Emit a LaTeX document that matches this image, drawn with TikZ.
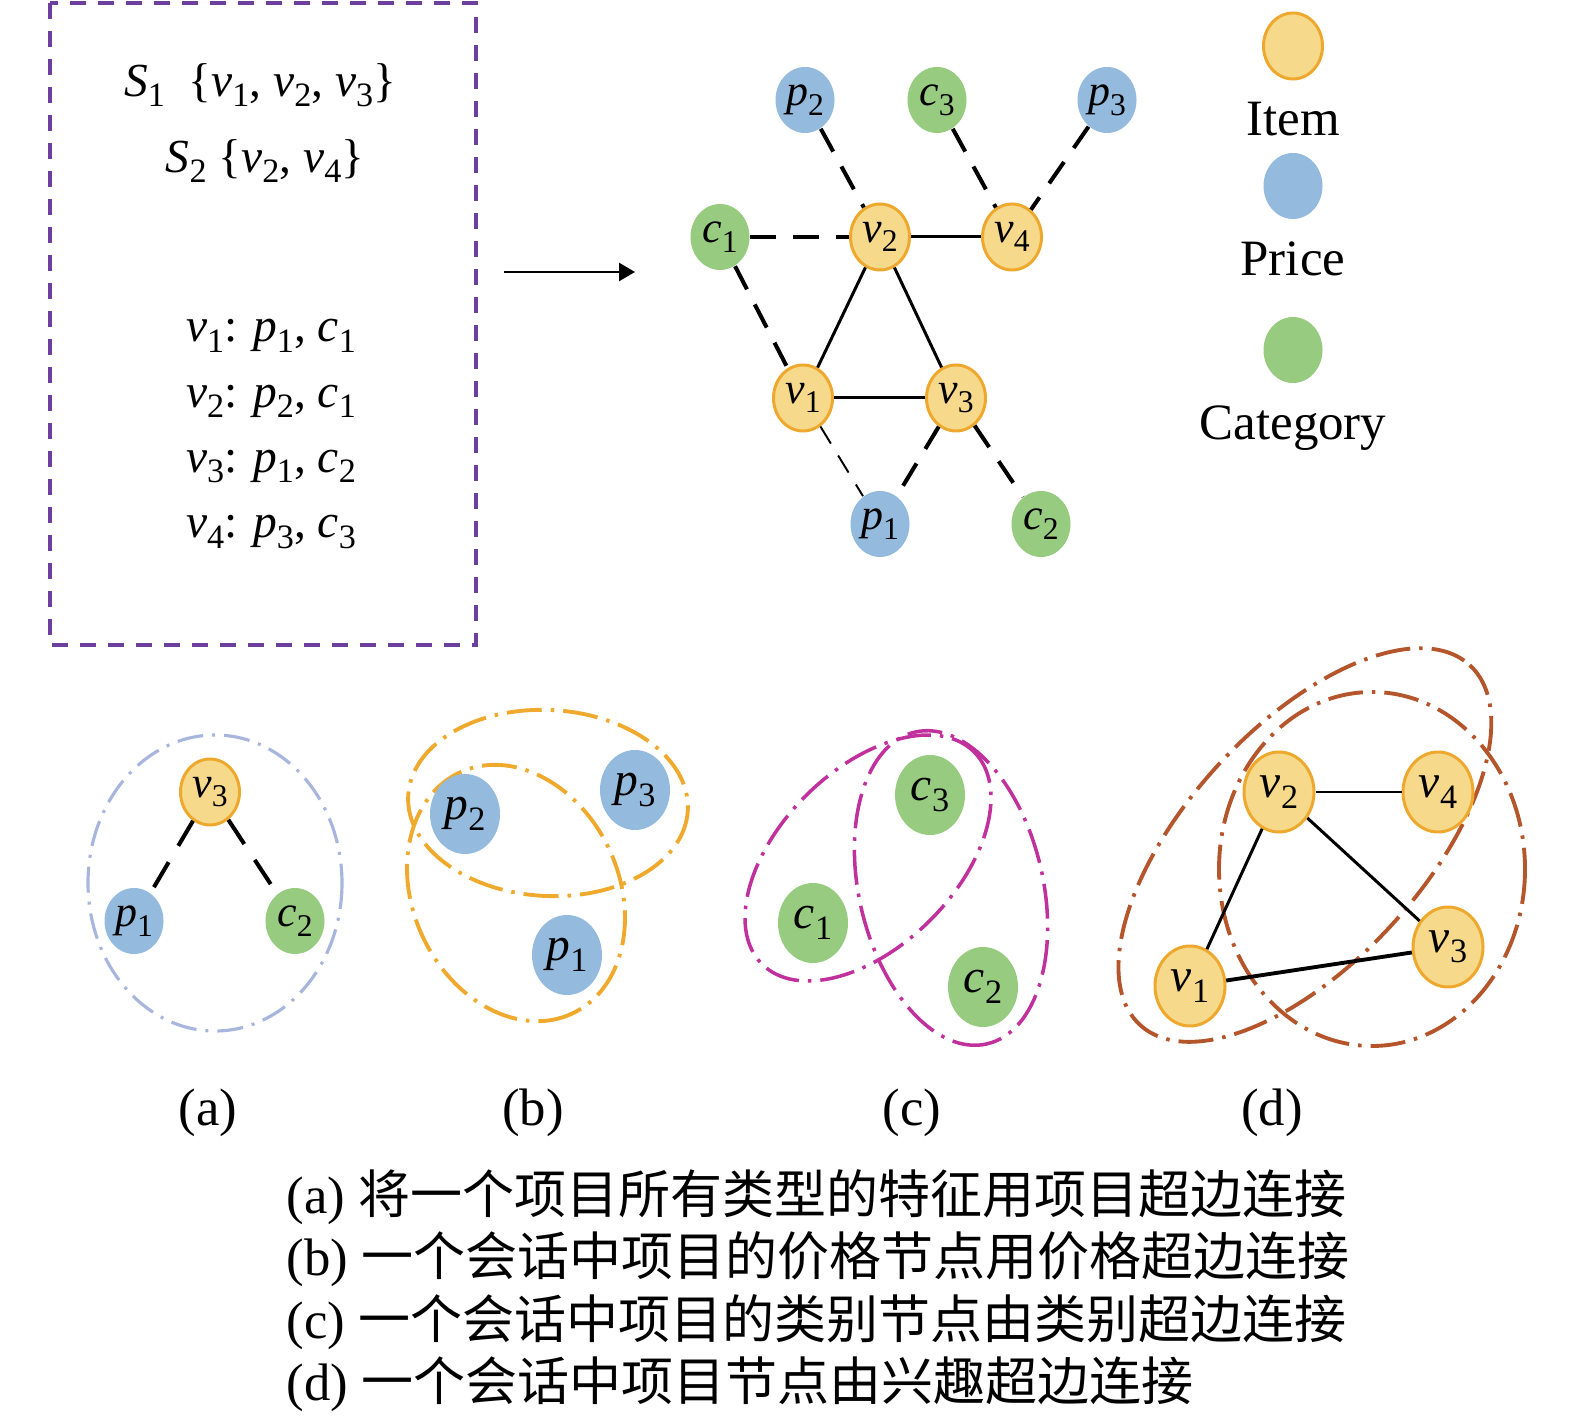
\documentclass[tikz,border=0pt]{standalone}
\usepackage{fontspec}
\setmainfont{Liberation Serif}
\newfontfamily\cjk{Noto Sans CJK SC}
\usepackage{graphicx}
\usepackage{tikz}
\usepackage{xcolor}
\usetikzlibrary{shapes.geometric, arrows.meta, positioning}

\definecolor{itemfill}{HTML}{F6D98A}
\definecolor{itemdraw}{HTML}{EFA82E}
\definecolor{pricefill}{HTML}{94BADD}
\definecolor{catfill}{HTML}{97CB80}
\definecolor{boxpurple}{HTML}{6C3F9E}
\definecolor{hyperA}{HTML}{A8B6DE}
\definecolor{hyperB}{HTML}{EFAA2E}
\definecolor{hyperC}{HTML}{C0319D}
\definecolor{hyperD}{HTML}{B4552B}

\newcommand{\nd}[2]{\textit{#1}\raisebox{-0.22em}{\scalebox{0.72}{#2}}}
\newcommand{\zh}[1]{{\cjk\fontsize{14.8}{17.7}\selectfont #1}}

\tikzstyle{item}    = [ellipse, minimum width=5.9mm, minimum height=6.6mm, inner sep=-4pt,
                       fill=itemfill, draw=itemdraw, line width=0.85pt, font=\fontsize{12.5}{14}\selectfont]
\tikzstyle{price}   = [ellipse, minimum width=5.9mm, minimum height=6.6mm, inner sep=-4pt,
                       fill=pricefill, font=\fontsize{12.5}{14}\selectfont]
\tikzstyle{cat}     = [ellipse, minimum width=5.9mm, minimum height=6.6mm, inner sep=-4pt,
                       fill=catfill, font=\fontsize{12.5}{14}\selectfont]
\tikzstyle{bignode} = [minimum width=7mm, minimum height=8mm, font=\fontsize{13.5}{15}\selectfont]
\tikzstyle{boxtext} = [inner sep=0pt, font=\fontsize{13.5}{18.6}\selectfont]
\tikzstyle{legendtext} = [inner sep=0pt, font=\fontsize{14.5}{16}\selectfont]
\tikzstyle{sublabel} = [inner sep=0pt, font=\fontsize{15}{17}\selectfont]
\tikzstyle{captext} = [anchor=base west, inner sep=0pt, font=\fontsize{15}{17.7}\selectfont]
\tikzstyle{link}    = [line width=0.85pt]
\tikzstyle{feat}    = [line width=1.15pt, dash pattern=on 2.6mm off 1.7mm]
\tikzstyle{featthin} = [line width=0.55pt, dash pattern=on 2mm off 1.4mm]
\tikzstyle{arrow}   = [-{Triangle[length=1.6mm, width=1.8mm]}, line width=0.75pt]
\tikzstyle{framebox} = [draw=boxpurple, line width=0.9pt, dash pattern=on 1.6mm off 1.2mm]
\tikzstyle{hyper}   = [line width=1.1pt, dash pattern=on 3.5mm off 0.9mm on 0.35mm off 0.9mm]
\tikzstyle{hypa}    = [hyper, draw=hyperA, line width=0.9pt, dash pattern=on 2.6mm off 0.9mm on 0.3mm off 0.9mm]
\tikzstyle{hypb}    = [hyper, draw=hyperB]
\tikzstyle{hypc}    = [hyper, draw=hyperC, line width=1pt]
\tikzstyle{hypd}    = [hyper, draw=hyperD]

\begin{document}
\begin{tikzpicture}[x=0.1mm, y=-0.1mm]
    \useasboundingbox (0,0) rectangle (1575,1417);

    % sessions and item attributes
    \draw[framebox] (50,3) rectangle (476,645);
    \node (s1) [boxtext] at (260,85) {\nd{S}{1}\ \ \{\nd{v}{1}, \nd{v}{2}, \nd{v}{3}\}};
    \node (s2) [boxtext] at (265,161) {\nd{S}{2}\ \{\nd{v}{2}, \nd{v}{4}\}};
    \node (attrs) [boxtext, align=left] at (271,434) {\nd{v}{1}: \nd{p}{1}, \nd{c}{1}\\
        \nd{v}{2}: \nd{p}{2}, \nd{c}{1}\\ \nd{v}{3}: \nd{p}{1}, \nd{c}{2}\\ \nd{v}{4}: \nd{p}{3}, \nd{c}{3}};

    \coordinate (arrtail) at (504,272);
    \coordinate (arrhead) at (635,272);
    \draw[arrow] (arrtail) -- (arrhead);

    % heterogeneous graph
    \node (p2) [price] at (805,100) {\nd{p}{2}};
    \node (c3) [cat] at (937,100) {\nd{c}{3}};
    \node (p3) [price] at (1107,100) {\nd{p}{3}};
    \node (c1) [cat] at (720,237) {\nd{c}{1}};
    \node (v2) [item] at (880,237) {\nd{v}{2}};
    \node (v4) [item] at (1012,237) {\nd{v}{4}};
    \node (v1) [item] at (803,398) {\nd{v}{1}};
    \node (v3) [item] at (956,398) {\nd{v}{3}};
    \node (p1) [price] at (880,524) {\nd{p}{1}};
    \node (c2) [cat] at (1041,524) {\nd{c}{2}};

    \draw[feat] (c1) -- (v2);
    \draw[feat] (p2) -- (v2);
    \draw[feat] (c3) -- (v4);
    \draw[feat] (p3) -- (v4);
    \draw[feat] (c1) -- (v1);
    \draw[featthin] (v1) -- (p1);
    \draw[feat] (v3) -- (p1);
    \draw[feat] (v3) -- (c2);
    \draw[link] (v2) -- (v4);
    \draw[link] (v2) -- (v1);
    \draw[link] (v2) -- (v3);
    \draw[link] (v1) -- (v3);

    % legend
    \node (legitem) [item] at (1293,46) {};
    \node (itemlbl) [legendtext, below=2.1mm of legitem] {Item};
    \node (legprice) [price] at (1293,186) {};
    \node (pricelbl) [legendtext, below=2.1mm of legprice] {Price};
    \node (legcat) [cat] at (1293,350) {};
    \node (catlbl) [legendtext, below=2.1mm of legcat] {Category};

    % (a)
    \coordinate (ha) at (215,883);
    \draw[hypa] (ha) ellipse [x radius=127, y radius=148];
    \node (av3) [item] at (210,792) {\nd{v}{3}};
    \node (ap1) [price] at (134,921) {\nd{p}{1}};
    \node (ac2) [cat] at (295,921) {\nd{c}{2}};
    \draw[feat, dash pattern=on 2.9mm off 1.9mm] (av3) -- (ap1);
    \draw[feat, dash pattern=on 2.9mm off 1.9mm] (av3) -- (ac2);

    % (b)
    \coordinate (hb1) at (548,803);
    \coordinate (hb2) at (516,893);
    \draw[hypb, rotate around={-3:(hb1)}] (hb1) ellipse [x radius=140, y radius=93];
    \draw[hypb, rotate around={-65:(hb2)}] (hb2) ellipse [x radius=133, y radius=103];
    \node (bp2) [price, bignode] at (465,814) {\nd{p}{2}};
    \node (bp3) [price, bignode] at (635,790) {\nd{p}{3}};
    \node (bp1) [price, bignode] at (567,955) {\nd{p}{1}};

    % (c)
    \coordinate (hc1) at (868,858);
    \coordinate (hc2) at (951,888);
    \draw[hypc, rotate around={45:(hc1)}] (hc1) ellipse [x radius=150, y radius=88];
    \draw[hypc, rotate around={-77:(hc2)}] (hc2) ellipse [x radius=160, y radius=92];
    \node (cc3) [cat, bignode] at (930,795) {\nd{c}{3}};
    \node (cc1) [cat, bignode] at (813,923) {\nd{c}{1}};
    \node (cc2) [cat, bignode] at (983,987) {\nd{c}{2}};

    % (d)
    \coordinate (hd1) at (1305,845);
    \coordinate (hd2) at (1372,869);
    \draw[hypd, rotate around={47.5:(hd1)}] (hd1) ellipse [x radius=244, y radius=118];
    \draw[hypd] (hd2) ellipse [x radius=153, y radius=177];
    \node (dv2) [item, bignode] at (1279,792) {\nd{v}{2}};
    \node (dv4) [item, bignode] at (1438,792) {\nd{v}{4}};
    \node (dv3) [item, bignode] at (1448,947) {\nd{v}{3}};
    \node (dv1) [item, bignode] at (1190,986) {\nd{v}{1}};
    \draw[link] (dv2) -- (dv4);
    \draw[link] (dv2) -- (dv3);
    \draw[link] (dv1) -- (dv2);
    \draw[link, line width=1.1pt] (dv1) -- (dv3);

    % panel labels and captions
    \node (laba) [sublabel] at (208,1113) {(a)};
    \node (labb) [sublabel] at (533,1113) {(b)};
    \node (labc) [sublabel] at (912,1113) {(c)};
    \node (labd) [sublabel] at (1272,1113) {(d)};

    \node (capa) [captext] at (286,1213) {(a) \zh{将一个项目所有类型的特征用项目超边连接}};
    \node (capb) [captext] at (286,1275) {(b) \zh{一个会话中项目的价格节点用价格超边连接}};
    \node (capc) [captext] at (286,1338) {(c) \zh{一个会话中项目的类别节点由类别超边连接}};
    \node (capd) [captext] at (286,1400) {(d) \zh{一个会话中项目节点由兴趣超边连接}};
\end{tikzpicture}
\end{document}
